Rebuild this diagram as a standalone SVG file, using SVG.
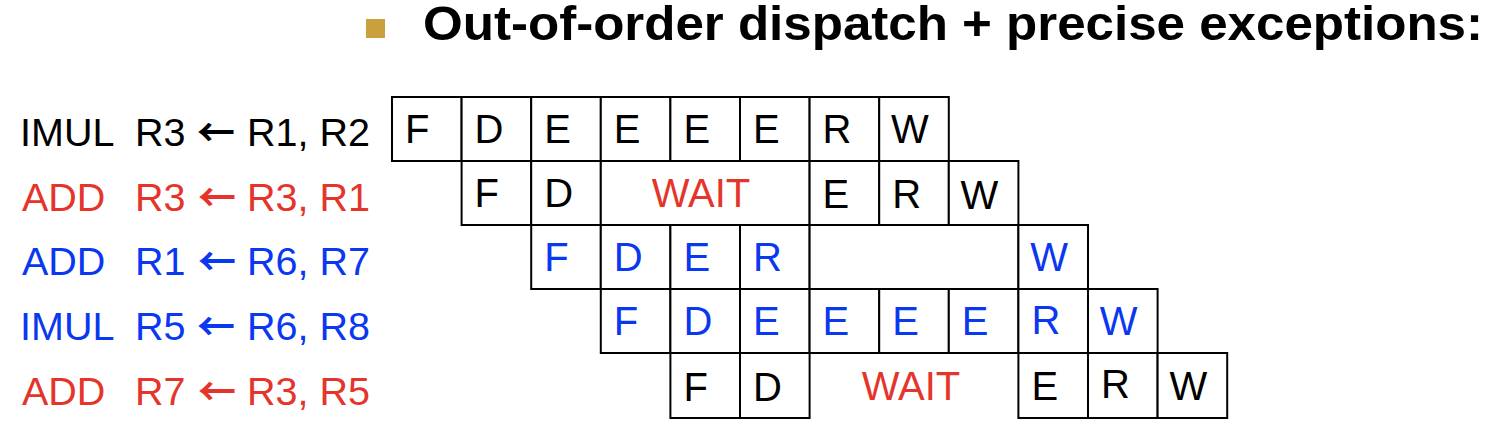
<svg xmlns="http://www.w3.org/2000/svg" width="1510" height="444" viewBox="0 0 1510 444">
<style>
.c{fill:#fff;stroke:#000;stroke-width:2}
.t{font-family:"Liberation Sans",Arial,sans-serif;font-size:40px}
.l{font-family:"Liberation Sans",Arial,sans-serif;font-size:39.5px}
.a{font-family:"Noto Sans CJK SC","DejaVu Sans",sans-serif;font-weight:bold;font-size:38px;text-anchor:middle}
.k{fill:#000}.r{fill:#e5352b}.b{fill:#0a37f0}
.m{text-anchor:middle}
</style>
<rect width="1510" height="444" fill="#fff"/>
<g id="title">
<rect x="366" y="19" width="19" height="19" fill="#c9a03c"/>
<text x="423" y="40" font-family="'Liberation Sans',Arial,sans-serif" font-weight="bold" font-size="48" textLength="1060" lengthAdjust="spacingAndGlyphs">Out-of-order dispatch + precise exceptions:</text>
</g>
<g id="labels">
<text class="l k" y="146"><tspan x="20">IMUL</tspan><tspan x="135">R3</tspan><tspan x="247">R1, R2</tspan></text>
<text class="a k" x="216" y="146">←</text>
<text class="l r" y="210.5"><tspan x="22">ADD</tspan><tspan x="135">R3</tspan><tspan x="247">R3, R1</tspan></text>
<text class="a r" x="217" y="210.5">←</text>
<text class="l b" y="275"><tspan x="22">ADD</tspan><tspan x="135">R1</tspan><tspan x="247">R6, R7</tspan></text>
<text class="a b" x="217" y="275">←</text>
<text class="l b" y="340"><tspan x="20">IMUL</tspan><tspan x="135">R5</tspan><tspan x="247">R6, R8</tspan></text>
<text class="a b" x="216" y="340">←</text>
<text class="l r" y="405"><tspan x="22">ADD</tspan><tspan x="135">R7</tspan><tspan x="247">R3, R5</tspan></text>
<text class="a r" x="217" y="405">←</text>
</g>
<g id="row1">
<rect class="c" x="392" y="97" width="69.6" height="64"/>
<rect class="c" x="461.6" y="97" width="69.6" height="64"/>
<rect class="c" x="531.2" y="97" width="69.6" height="64"/>
<rect class="c" x="600.8" y="97" width="69.6" height="64"/>
<rect class="c" x="670.4" y="97" width="69.6" height="64"/>
<rect class="c" x="740" y="97" width="69.6" height="64"/>
<rect class="c" x="809.6" y="97" width="69.6" height="64"/>
<rect class="c" x="879.2" y="97" width="69.6" height="64"/>
<g class="t k">
<text x="405" y="143">F</text><text x="474.6" y="143">D</text><text x="544.2" y="143">E</text><text x="613.8" y="143">E</text><text x="683.4" y="143">E</text><text x="753" y="143">E</text><text x="822.6" y="143">R</text><text x="891" y="143">W</text>
</g>
</g>
<g id="row2">
<rect class="c" x="461.6" y="161" width="69.6" height="64"/>
<rect class="c" x="531.2" y="161" width="69.6" height="64"/>
<rect class="c" x="600.8" y="161" width="208.8" height="64"/>
<rect class="c" x="809.6" y="161" width="69.6" height="64"/>
<rect class="c" x="879.2" y="161" width="69.6" height="64"/>
<rect class="c" x="948.8" y="161" width="69.6" height="64"/>
<g class="t k">
<text x="474.6" y="207">F</text><text x="544.2" y="207">D</text><text x="822.6" y="208">E</text><text x="892.2" y="208">R</text><text x="960.6" y="209">W</text>
</g>
<text class="t r m" x="701" y="207">WAIT</text>
</g>
<g id="row3">
<rect class="c" x="531.2" y="225" width="69.6" height="64"/>
<rect class="c" x="600.8" y="225" width="69.6" height="64"/>
<rect class="c" x="670.4" y="225" width="69.6" height="64"/>
<rect class="c" x="740" y="225" width="69.6" height="64"/>
<rect class="c" x="809.6" y="225" width="208.8" height="64"/>
<rect class="c" x="1018.4" y="225" width="69.6" height="64"/>
<g class="t b">
<text x="544.2" y="271">F</text><text x="613.8" y="271">D</text><text x="683.4" y="271">E</text><text x="753" y="271">R</text><text x="1030.2" y="271">W</text>
</g>
</g>
<g id="row4">
<rect class="c" x="600.8" y="289" width="69.6" height="64"/>
<rect class="c" x="670.4" y="289" width="69.6" height="64"/>
<rect class="c" x="740" y="289" width="69.6" height="64"/>
<rect class="c" x="809.6" y="289" width="69.6" height="64"/>
<rect class="c" x="879.2" y="289" width="69.6" height="64"/>
<rect class="c" x="948.8" y="289" width="69.6" height="64"/>
<rect class="c" x="1018.4" y="289" width="69.6" height="64"/>
<rect class="c" x="1088" y="289" width="69.6" height="64"/>
<g class="t b">
<text x="613.8" y="335">F</text><text x="683.4" y="335">D</text><text x="753" y="335">E</text><text x="822.6" y="335">E</text><text x="892.2" y="335">E</text><text x="961.8" y="335">E</text><text x="1031.4" y="334">R</text><text x="1099.8" y="335">W</text>
</g>
</g>
<g id="row5">
<rect class="c" x="670.4" y="353" width="69.6" height="65"/>
<rect class="c" x="740" y="353" width="69.6" height="65"/>
<rect class="c" x="1018.4" y="353" width="69.6" height="65"/>
<rect class="c" x="1088" y="353" width="69.6" height="65"/>
<rect class="c" x="1157.6" y="353" width="69.6" height="65"/>
<g class="t k">
<text x="683.4" y="401">F</text><text x="753" y="401">D</text><text x="1031.4" y="400">E</text><text x="1101" y="398">R</text><text x="1169.4" y="400">W</text>
</g>
<text class="t r m" x="911" y="400">WAIT</text>
</g>
</svg>
